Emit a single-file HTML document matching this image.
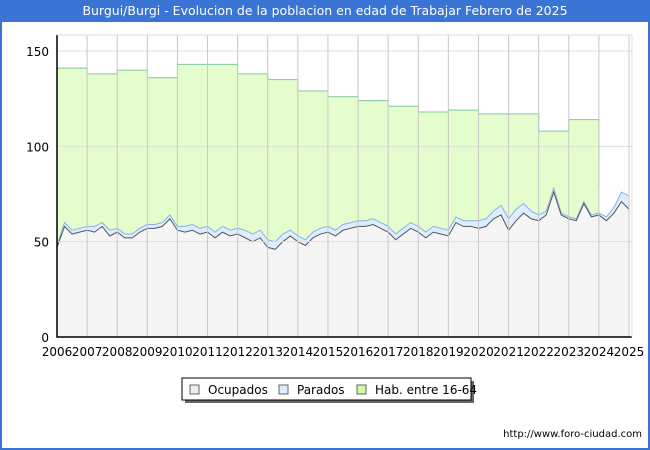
<!DOCTYPE html>
<html><head><meta charset="utf-8"><style>
body{margin:0;background:#fff;font-family:"DejaVu Sans","Liberation Sans",sans-serif}
#wrap{position:relative;width:650px;height:450px;box-sizing:border-box;border:2px solid #3a74d4;border-top:none}
#title{position:absolute;left:0;top:0;width:646px;height:22px;background:#3a74d4;color:#fff;font-size:12.5px;text-align:center;line-height:22px}
</style></head><body>
<div id="wrap">
<div id="title">Burgui/Burgi - Evolucion de la poblacion en edad de Trabajar Febrero de 2025</div>
<svg id="svg" width="646" height="450" style="position:absolute;left:0;top:0" font-family="DejaVu Sans, Liberation Sans, sans-serif"></svg>
</div>
<script>
const years=[2006,2007,2008,2009,2010,2011,2012,2013,2014,2015,2016,2017,2018,2019,2020,2021,2022,2023,2024,2025];
const habValues=[141,138,140,136,143,143,138,135,129,126,124,121,118,119,117,117,108,114];
const habEndValue=78;
const ocupados=[47,58,54,55, 56,55,58,53, 55,52,52,55, 57,57,58,62, 56,55,56,54, 55,52,55,53, 54,52,50,52, 47,46,50,53, 50,48,52,54, 55,53,56,57, 58,58,59,57, 55,51,54,57, 55,52,55,54, 53,60,58,58, 57,58,62,64, 56,61,65,62, 61,64,76,64, 62,61,70,63, 64,61,65,71, 67];
const parados=[1,2,2,2, 2,3,2,3, 2,2,2,2, 2,2,2,2, 2,3,3,3, 3,3,3,3, 3,4,4,4, 4,4,4,3, 3,3,3,3, 3,3,3,3, 3,3,3,3, 3,3,3,3, 3,3,3,3, 3,3,3,3, 4,4,4,5, 6,6,5,4, 3,2,2,1, 1,1,1,1, 1,2,3,5, 7];
const yTicks=[0,50,100,150];
const NS='http://www.w3.org/2000/svg';
const svg=document.getElementById('svg');
const X0=55,X1=627,Y0=337,Y150=51;
const xs=t=>X0+(t-2006)*(X1-X0)/19;
const ys=v=>Y0-v*(Y0-Y150)/150;
function mk(tag,attrs,name,parent){const e=document.createElementNS(NS,tag);for(const k in attrs)e.setAttribute(k,attrs[k]);


(parent||svg).appendChild(e);return e;}
mk('rect',{x:X0,y:35,width:575,height:302,fill:'#fff'},'plot-area');
let d='M'+xs(2006)+','+Y0;
habValues.forEach((v,i)=>{d+=' L'+xs(2006+i)+','+ys(v)+' L'+xs(2007+i)+','+ys(v);});
const hd=d+' L'+xs(2024)+','+ys(habEndValue)+' L'+xs(2024)+','+Y0+' Z';
mk('path',{d:hd,fill:'#e5fdcc',stroke:'none'},'hab-area');
let hl='M'+xs(2006)+','+ys(habValues[0]);
habValues.forEach((v,i)=>{hl+=' L'+xs(2006+i)+','+ys(v)+' L'+xs(2007+i)+','+ys(v);});
hl+=' L'+xs(2024)+','+ys(habEndValue);
mk('path',{d:hl,fill:'none',stroke:'#80c8a0','stroke-width':1},'hab-line');
const tt=ocupados.map((_,i)=>2006+i*0.25);
let tp=tt.map((t,i)=>xs(t)+','+ys(ocupados[i]+parados[i]));
let op=tt.map((t,i)=>xs(t)+','+ys(ocupados[i]));
mk('path',{d:'M'+tp.join(' L')+' L'+op.slice().reverse().join(' L')+' Z',fill:'#ddeeff'},'parados-area');
mk('path',{d:'M'+op.join(' L')+' L'+xs(tt[tt.length-1])+','+Y0+' L'+X0+','+Y0+' Z',fill:'#f5f5f5'},'ocupados-area');
mk('path',{d:'M'+tp.join(' L'),fill:'none',stroke:'#8ab0e8','stroke-width':1},'parados-line');
mk('path',{d:'M'+op.join(' L'),fill:'none',stroke:'#555','stroke-width':1},'ocupados-line');
yTicks.forEach(v=>{if(v>0)mk('line',{x1:X0,x2:630,y1:ys(v),y2:ys(v),stroke:'#ddd'},'grid-y-'+v);
const t=mk('text',{x:47,y:ys(v)+5,'font-size':12,'text-anchor':'end',fill:'#000'},'y-tick-'+v);t.textContent=v;});
years.forEach(y=>{if(y>2006)mk('line',{x1:xs(y),x2:xs(y),y1:35,y2:Y0,stroke:'#c8c8c8'},'grid-x-'+y);
const t=mk('text',{x:xs(y),y:356,'font-size':12,'text-anchor':'middle',fill:'#000'},'x-tick-'+y);t.textContent=y;});
mk('path',{d:'M'+X0+',35 L'+X0+','+Y0+' L630,'+Y0,fill:'none',stroke:'#000','stroke-width':1.5},'axes');
mk('line',{x1:X0,x2:630,y1:35,y2:35,stroke:'#ddd'},'plot-top');
mk('line',{x1:630,x2:630,y1:35,y2:Y0,stroke:'#ddd'},'plot-right');
mk('rect',{x:183,y:381,width:289,height:22,fill:'#666'},'legend-shadow');
mk('rect',{x:180,y:378,width:289,height:22,fill:'#fff',stroke:'#000'},'legend');
[['Ocupados','#eeeeee',188],['Parados','#ddeeff',277],['Hab. entre 16-64','#ccff99',355]].forEach(([n,c,x])=>{
mk('rect',{x:x,y:385,width:9,height:9,fill:c,stroke:'#666'},'legend-swatch-'+n.split(' ')[0].toLowerCase().replace('.',''));
const t=mk('text',{x:x+18,y:394,'font-size':12,fill:'#000'},'legend-label-'+n.split(' ')[0].toLowerCase().replace('.',''));t.textContent=n;});
const u=mk('text',{x:640,y:437,'font-size':10,'text-anchor':'end',fill:'#000'},'source-url');u.textContent='http://www.foro-ciudad.com';
</script>
</body></html>
